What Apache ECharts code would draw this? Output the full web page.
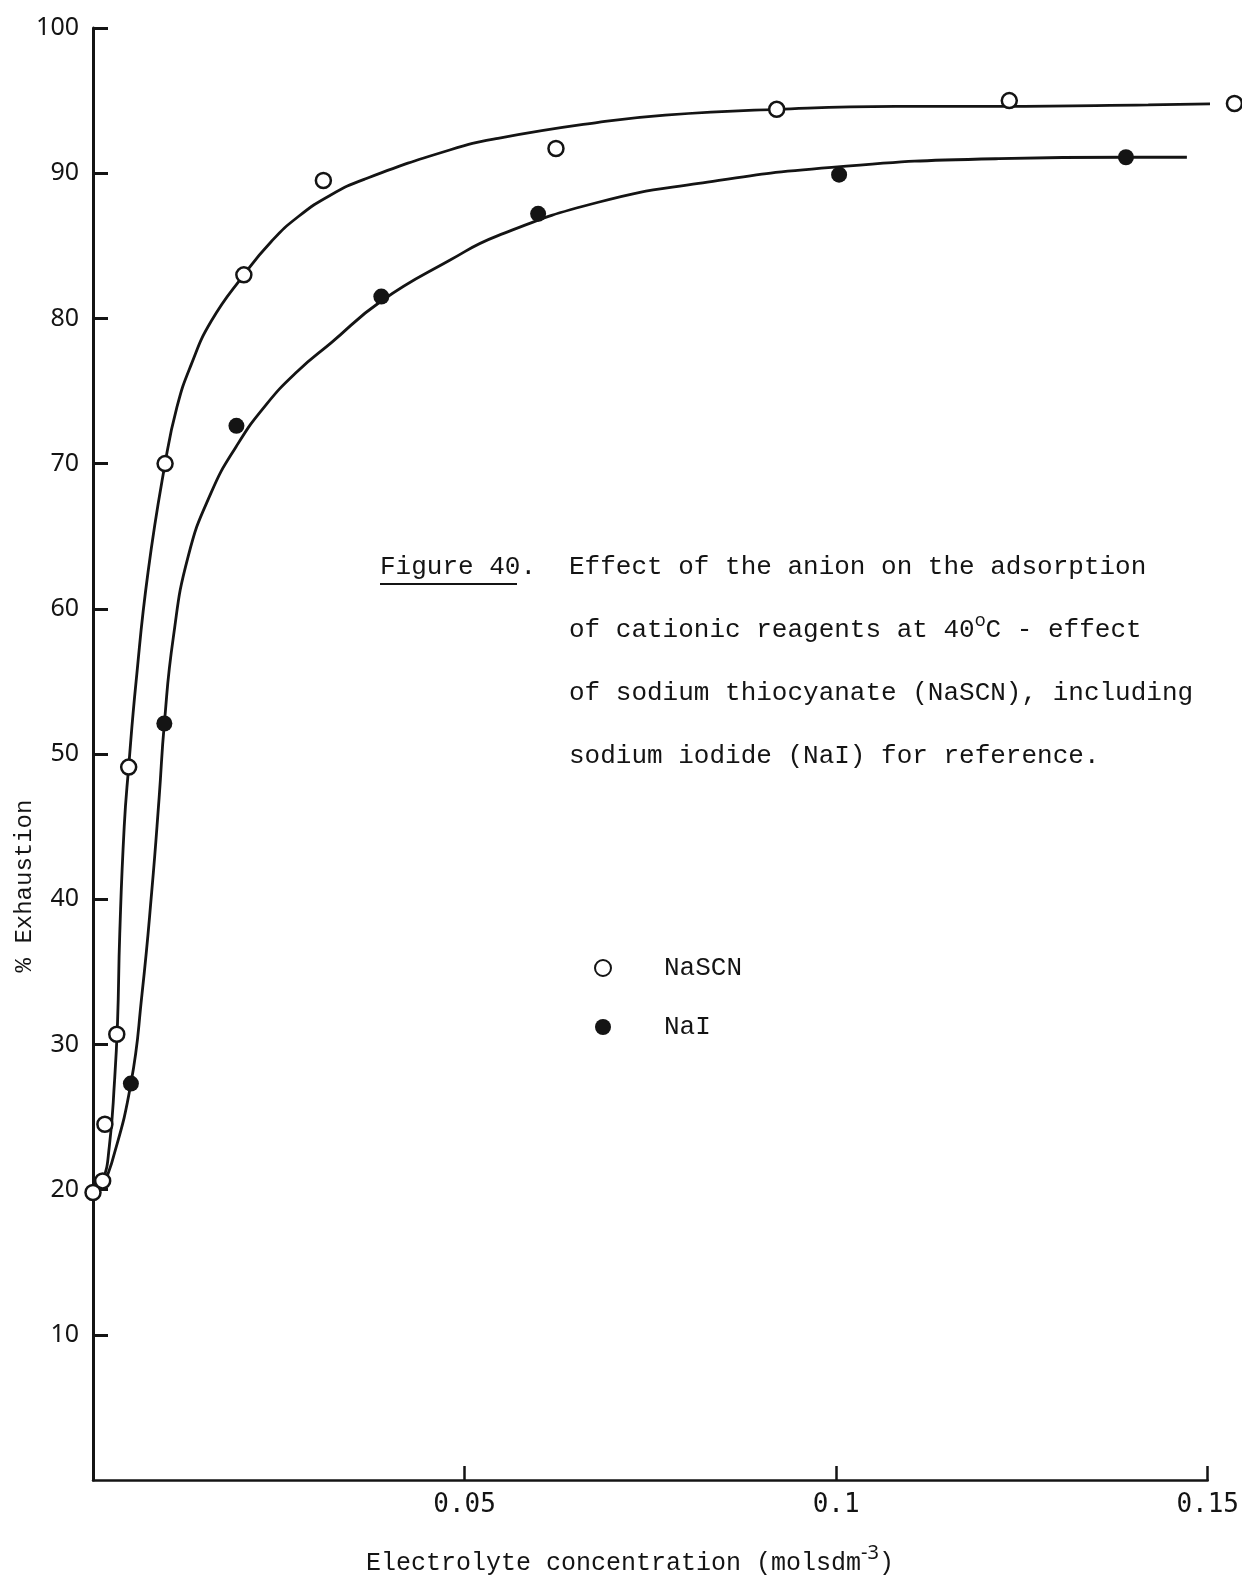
<!DOCTYPE html>
<html>
<head>
<meta charset="utf-8">
<title>% Exhaustion vs electrolyte concentration</title>
<script src="https://cdn.jsdelivr.net/npm/echarts@6/dist/echarts.min.js"></script>
<style>
  html, body { margin: 0; padding: 0; background: #fff; }
  #chart { width: 1242px; height: 1584px; }
</style>
</head>
<body>
<div id="chart"></div>
<script>
// Measured points: NaSCN (open circles)
const xNaSCN = [0, 0.0013, 0.0016, 0.0032, 0.0048, 0.0097, 0.0203, 0.031, 0.0623, 0.092, 0.1233, 0.1536];
const yNaSCN = [19.8, 20.6, 24.5, 30.7, 49.1, 70.0, 83.0, 89.5, 91.7, 94.4, 95.0, 94.8];

// Measured points: NaI (filled circles)
const xNaI = [0.0051, 0.0096, 0.0193, 0.0388, 0.0599, 0.1004, 0.139];
const yNaI = [27.3, 52.1, 72.6, 81.5, 87.2, 89.9, 91.1];

// Hand-fitted curve through the NaSCN points
const xCurveNaSCN = [0, 0.0013, 0.0022, 0.0029, 0.0033, 0.0036, 0.0042, 0.0048, 0.0058, 0.0074, 0.0097,
  0.0113, 0.0132, 0.0159, 0.0203, 0.0240, 0.0276, 0.0320, 0.0366, 0.048, 0.0545, 0.068, 0.077,
  0.092, 0.108, 0.122, 0.142, 0.1536];
const yCurveNaSCN = [19.8, 20.6, 23.0, 27.5, 31.5, 37.6, 45.0, 49.1, 55.0, 62.5, 70.0,
  73.9, 76.8, 79.8, 83.0, 85.3, 87.0, 88.5, 89.6, 91.6, 92.4, 93.5, 94.0,
  94.4, 94.6, 94.6, 94.7, 94.8];

// Hand-fitted curve through the NaI points
const xCurveNaI = [0.0013, 0.0025, 0.0051, 0.0066, 0.0079, 0.0089, 0.0096, 0.0108, 0.0128, 0.0159,
  0.0193, 0.0232, 0.0276, 0.0320, 0.0388, 0.0480, 0.0545, 0.068, 0.0815, 0.0994, 0.1219, 0.139, 0.1472];
const yCurveNaI = [20.3, 21.8, 27.3, 33.5, 40.5, 47.0, 52.1, 58.0, 63.6, 68.0,
  71.2, 74.0, 76.4, 78.3, 81.2, 84.0, 85.7, 88.0, 89.3, 90.4, 91.0, 91.1, 91.1];

// Axis ranges and tick labels
const xMin = 0, xMax = 0.15, xStep = 0.05;
const yMin = 0, yMax = 100, yStep = 10;
const xTickLabels = ['0.05', '0.1', '0.15'];
const yTickLabels = ['10', '20', '30', '40', '50', '60', '70', '80', '90', '100'];

// Caption lines
const captionHead = 'Figure 40.';
const captionLines = [
  'Effect of the anion on the adsorption',
  'of cationic reagents at 40{sup|o}C - effect',
  'of sodium thiocyanate (NaSCN), including',
  'sodium iodide (NaI) for reference.'
];
const xAxisTitle = 'Electrolyte concentration (molsdm{sup|-3})';
const yAxisTitle = '% Exhaustion';

const zip = (xs, ys) => xs.map((x, i) => [x, ys[i]]);
const INK = '#141414';
const MONO = '"Liberation Mono", "DejaVu Sans Mono", monospace';
const SANS = '"Noto Sans", "Liberation Sans", sans-serif';

function xLabel(v) {
  const i = Math.round(v / xStep) - 1;
  return i >= 0 && i < xTickLabels.length ? xTickLabels[i] : '';
}
function yLabel(v) {
  const i = Math.round(v / yStep) - 1;
  return i >= 0 && i < yTickLabels.length ? yTickLabels[i] : '';
}

const captionGraphics = [];
const capX = 569, capY0 = 567, capGap = 63;
captionGraphics.push({
  type: 'text', x: 380, y: capY0,
  style: { text: captionHead, fontFamily: MONO, fontSize: 26, fill: INK, verticalAlign: 'middle' }
});
captionGraphics.push({
  type: 'line', shape: { x1: 380, y1: capY0 + 17, x2: 517, y2: capY0 + 17 },
  style: { stroke: INK, lineWidth: 2 }
});
captionLines.forEach((t, i) => {
  captionGraphics.push({
    type: 'text', x: capX, y: capY0 + i * capGap,
    style: {
      text: t, fontFamily: MONO, fontSize: 26, fill: INK, verticalAlign: 'middle',
      rich: { sup: { fontFamily: SANS, fontSize: 18, fill: INK, padding: [0, 0, 18, 0] } }
    }
  });
});

const option = {
  animation: false,
  backgroundColor: '#ffffff',
  grid: { left: 93, right: 33, top: 28, bottom: 104 },
  xAxis: {
    type: 'value', min: xMin, max: xMax, interval: xStep,
    axisLine: { show: true, onZero: false, lineStyle: { color: INK, width: 2.5 } },
    axisTick: { show: true, inside: true, length: 14, lineStyle: { color: INK, width: 2.5 } },
    axisLabel: { showMinLabel: false, margin: 12, color: INK, fontFamily: '"DejaVu Sans Mono", monospace', fontSize: 26, formatter: xLabel },
    splitLine: { show: false }
  },
  yAxis: {
    type: 'value', min: yMin, max: yMax, interval: yStep,
    axisLine: { show: true, onZero: false, lineStyle: { color: INK, width: 3 } },
    axisTick: { show: true, inside: true, length: 15, lineStyle: { color: INK, width: 3 } },
    axisLabel: { showMinLabel: false, margin: 14, color: INK, fontFamily: SANS, fontSize: 25, formatter: yLabel },
    splitLine: { show: false }
  },
  legend: {
    orient: 'vertical', left: 594, top: 953, padding: 0,
    itemWidth: 16, itemHeight: 16, itemGap: 29, icon: 'circle',
    selectedMode: false,
    textStyle: { fontFamily: MONO, fontSize: 26, color: INK, lineHeight: 30, padding: [0, 0, 0, 48] },
    data: ['NaSCN', 'NaI']
  },
  series: [
    {
      name: 'NaSCN fit', type: 'line', data: zip(xCurveNaSCN, yCurveNaSCN),
      smooth: 0.5, symbol: 'none', silent: true, clip: false, z: 2,
      lineStyle: { color: INK, width: 2.8 }
    },
    {
      name: 'NaI fit', type: 'line', data: zip(xCurveNaI, yCurveNaI),
      smooth: 0.5, symbol: 'none', silent: true, clip: false, z: 2,
      lineStyle: { color: INK, width: 2.8 }
    },
    {
      name: 'NaSCN', type: 'scatter', data: zip(xNaSCN, yNaSCN),
      symbol: 'circle', symbolSize: 15, clip: false, z: 4,
      itemStyle: { color: '#ffffff', borderColor: INK, borderWidth: 2.5, opacity: 1 }
    },
    {
      name: 'NaI', type: 'scatter', data: zip(xNaI, yNaI),
      symbol: 'circle', symbolSize: 16, clip: false, z: 4,
      itemStyle: { color: INK, borderColor: INK, borderWidth: 0, opacity: 1 }
    }
  ],
  graphic: [
    {
      type: 'text', x: 25, y: 886, rotation: Math.PI / 2,
      style: { text: yAxisTitle, fontFamily: MONO, fontSize: 24, fill: INK, align: 'center', verticalAlign: 'middle' }
    },
    {
      type: 'text', x: 630, y: 1563,
      style: {
        text: xAxisTitle, fontFamily: MONO, fontSize: 25, fill: INK, align: 'center', verticalAlign: 'middle',
        rich: { sup: { fontFamily: SANS, fontSize: 20, fill: INK, padding: [0, 0, 20, 0] } }
      }
    }
  ].concat(captionGraphics)
};

const chart = echarts.init(document.getElementById('chart'), null, { renderer: 'canvas' });
chart.setOption(option);
</script>
</body>
</html>
